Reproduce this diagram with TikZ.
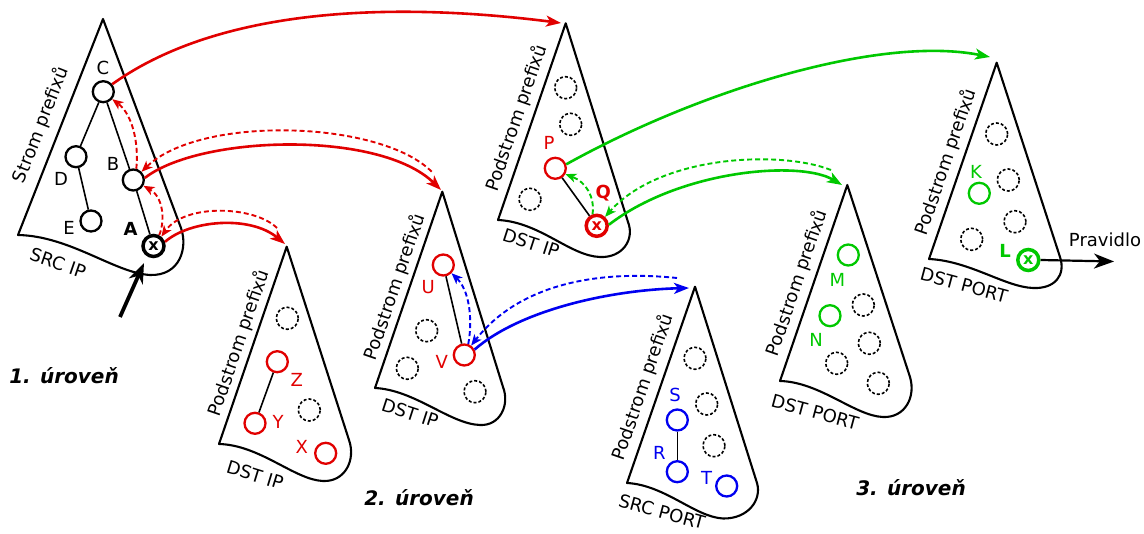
\documentclass[tikz,border=0pt]{standalone}
\usepackage{fontspec}
\setmainfont{DejaVu Sans}
\usetikzlibrary{arrows.meta}
\definecolor{cred}{RGB}{225,0,0}
\definecolor{cgreen}{RGB}{0,200,0}
\definecolor{cblue}{RGB}{0,0,240}
\begin{document}
\begin{tikzpicture}[x=1pt,y=-1pt,
  tri/.style={draw=black, line width=2.1pt, line join=round},
  nd/.style={circle, draw=#1, line width=2.3pt, minimum size=21pt, inner sep=0pt},
  nd/.default=black,
  dnd/.style={circle, draw=black, line width=1.6pt, dash pattern=on 3pt off 2pt, minimum size=22pt, inner sep=0pt},
  xnd/.style={circle, draw=#1, text=#1, line width=3.5pt, minimum size=21pt, inner sep=0pt, font=\bfseries\fontsize{16}{16}\selectfont},
  lbl/.style={font=\fontsize{18}{20}\selectfont, inner sep=0pt},
  blbl/.style={font=\bfseries\fontsize{18}{20}\selectfont, inner sep=0pt},
  side/.style={font=\fontsize{18}{20}\selectfont, inner sep=0pt},
  lvl/.style={font=\bfseries\itshape\fontsize{20}{22}\selectfont, inner sep=0pt},
  edge/.style={draw=black, line width=1.6pt},
  solidarr/.style={draw=#1, line width=2.6pt, -{Stealth[length=15pt,width=11pt,inset=4pt]}},
  dasharr/.style={draw=#1, line width=1.9pt, dash pattern=on 5pt off 3pt, -{Stealth[length=11pt,width=9pt,inset=3pt]}},
  blackarr/.style={draw=black, line width=#1, -{Stealth[length=20pt,width=15pt,inset=6pt]}}
]
\useasboundingbox (0,0) rectangle (1144,534);

% ---------- triangles ----------
\draw[tri] (103,19) -- (181,228) .. controls (188,248) and (180,276) .. (150,275) .. controls (115,273) and (70,236) .. (18,235) -- cycle;
\draw[tri] (286.7,246.7) -- (349,440) .. controls (356,460) and (345,482) .. (323,481) .. controls (295,480) and (260,445) .. (219,444) -- cycle;
\draw[tri] (442.3,191.7) -- (503,387) .. controls (510,405) and (500,426) .. (480,425) .. controls (450,424) and (415,390) .. (375,388) -- cycle;
\draw[tri] (565.7,23.3) -- (628,222) .. controls (635,240) and (622,258) .. (600,257) .. controls (570,256) and (540,222) .. (498,220) -- cycle;
\draw[tri] (695,286.7) -- (757,483) .. controls (762,500) and (748,519) .. (723,518.5) .. controls (695,517) and (665,485) .. (627,483) -- cycle;
\draw[tri] (847.3,185) -- (910,377) .. controls (916,397) and (905,418) .. (883,417) .. controls (855,416) and (820,382) .. (780,381) -- cycle;
\draw[tri] (996.7,62.7) -- (1060,257) .. controls (1066,275) and (1055,289) .. (1033,288) .. controls (1005,287) and (970,261) .. (929,259) -- cycle;

% ---------- side texts ----------
\node[side, rotate=68.5] (s1) at (41,125) {Strom prefixů};
\node[side, rotate=71] (s2) at (239,343) {Podstrom prefixů};
\node[side, rotate=71] (s3) at (395,287) {Podstrom prefixů};
\node[side, rotate=71] (s4) at (516.7,118) {Podstrom prefixů};
\node[side, rotate=71] (s5) at (643,387) {Podstrom prefixů};
\node[side, rotate=71] (s6) at (797,283) {Podstrom prefixů};
\node[side, rotate=71] (s7) at (946,162) {Podstrom prefixů};

\node[side, rotate=-19] (b1) at (58,263) {SRC IP};
\node[side, rotate=-17] (b2) at (255,475) {DST IP};
\node[side, rotate=-18] (b3) at (410,413) {DST IP};
\node[side, rotate=-18] (b4) at (531,243) {DST IP};
\node[side, rotate=-15] (b5) at (662,512) {SRC PORT};
\node[side, rotate=-15] (b6) at (815,412) {DST PORT};
\node[side, rotate=-15] (b7) at (964,285) {DST PORT};

% ---------- level labels ----------
\node[lvl] (l1) at (64,376) {1. úroveň};
\node[lvl] (l2) at (419,498) {2. úroveň};
\node[lvl] (l3) at (911,488) {3. úroveň};

% ---------- tree 1 ----------
\node[nd] (C) at (103.3,91.7) {};
\node[nd] (D) at (76,156.7) {};
\node[nd] (E) at (91,221) {};
\node[nd] (B) at (133.3,180) {};
\node[xnd=black] (A) at (153.5,246) {x};
\draw[edge] (C) -- (D);
\draw[edge] (D) -- (E);
\draw[edge] (C) -- (B);
\draw[edge] (B) -- (A);
\node[lbl] (lC) at (103,68) {C};
\node[lbl] (lD) at (61,179) {D};
\node[lbl] (lE) at (69,228) {E};
\node[lbl] (lB) at (113,164) {B};
\node[blbl] (lA) at (130.7,229) {A};

% ---------- tree 2 ----------
\node[dnd] (d21) at (287.3,318.3) {};
\node[nd=cred] (Z) at (277.3,361.7) {};
\node[nd=cred] (Y) at (255,423.3) {};
\node[dnd] (d22) at (309.3,410) {};
\node[nd=cred] (X) at (325.7,453.3) {};
\draw[edge] (Z) -- (Y);
\node[lbl, text=cred] (lZ) at (296.7,380) {Z};
\node[lbl, text=cred] (lY) at (278,421.7) {Y};
\node[lbl, text=cred] (lX) at (301.7,446.7) {X};

% ---------- tree 3 ----------
\node[nd=cred] (U) at (443.3,265) {};
\node[dnd] (d31) at (426.7,330.7) {};
\node[nd=cred] (V) at (464.3,355) {};
\node[dnd] (d32) at (407.3,368.3) {};
\node[dnd] (d33) at (475,391.7) {};
\draw[edge] (U) -- (V);
\node[lbl, text=cred] (lU) at (428.3,286.7) {U};
\node[lbl, text=cred] (lV) at (441.7,361.7) {V};

% ---------- tree 4 ----------
\node[dnd] (d41) at (565.7,87.7) {};
\node[dnd] (d42) at (570.7,124.3) {};
\node[nd=cred] (P) at (555.3,168.3) {};
\node[dnd] (d43) at (530,199.3) {};
\node[xnd=cred] (Q) at (596.7,225.8) {x};
\draw[edge] (P) -- (Q);
\node[lbl, text=cred] (lP) at (549,143.3) {P};
\node[blbl, text=cred] (lQ) at (603.3,192.7) {Q};

% ---------- tree 5 ----------
\node[dnd] (d51) at (695,358.3) {};
\node[nd=cblue] (S) at (677.3,420) {};
\node[dnd] (d52) at (706.7,404) {};
\node[dnd] (d53) at (714,445.7) {};
\node[nd=cblue] (R) at (677.3,471.7) {};
\node[nd=cblue] (T) at (726.7,486) {};
\draw[edge] (S) -- (R);
\node[lbl, text=cblue] (lS) at (675,395) {S};
\node[lbl, text=cblue] (lR) at (659.3,453.3) {R};
\node[lbl, text=cblue] (lT) at (706.7,478.3) {T};

% ---------- tree 6 ----------
\node[nd=cgreen] (M) at (848.3,255) {};
\node[dnd] (d61) at (863.3,305) {};
\node[nd=cgreen] (N) at (830,315.7) {};
\node[dnd] (d62) at (869.3,343.3) {};
\node[dnd] (d63) at (836.7,363.3) {};
\node[dnd] (d64) at (878.3,383.3) {};
\node[lbl, text=cgreen] (lM) at (837.3,280) {M};
\node[lbl, text=cgreen] (lN) at (816,340) {N};

% ---------- tree 7 ----------
\node[dnd] (d71) at (996.7,134) {};
\node[nd=cgreen] (K) at (979.3,193.3) {};
\node[dnd] (d72) at (1008.3,180) {};
\node[dnd] (d73) at (1015,221.7) {};
\node[dnd] (d74) at (971.7,239.3) {};
\node[xnd=cgreen] (L) at (1028.3,260) {x};
\node[lbl, text=cgreen] (lK) at (976,171.7) {K};
\node[blbl, text=cgreen] (lL) at (1005,251) {L};
\node[lbl] (rule) at (1105,239.5) {Pravidlo};

% ---------- endpoints ----------
\coordinate (e4) at (561,23);
\coordinate (e3) at (441,190);
\coordinate (s3) at (431.7,171.7);
\coordinate (e2) at (285,244);
\coordinate (s2) at (277,228);
\coordinate (e5) at (689,288);
\coordinate (s5) at (677,278);
\coordinate (e7) at (990,57);
\coordinate (e6) at (842,185);
\coordinate (s6) at (831,170);
\coordinate (out) at (1114,261.5);
\coordinate (inTail) at (120,317);
\coordinate (inHead) at (144,263);

% ---------- red connectors ----------
\draw[solidarr=cred] (C.40) .. controls (230,0) and (420,5) .. (e4);
\draw[solidarr=cred] (B.10) .. controls (200,135) and (380,130) .. (e3);
\draw[dasharr=cred] (s3) .. controls (380,120) and (200,115) .. (B.45);
\draw[solidarr=cred] (A.20) .. controls (190,220) and (250,215) .. (e2);
\draw[dasharr=cred] (s2) .. controls (255,206) and (185,203) .. (A.50);
\draw[dasharr=cred] (A.62) .. controls (166,218) and (162,196) .. (B.-30);
\draw[dasharr=cred] (B.75) .. controls (139,142) and (132,114) .. (C.-40);

% ---------- blue connectors ----------
\draw[solidarr=cblue] (V.28) .. controls (520,310) and (610,290) .. (e5);
\draw[dasharr=cblue] (s5) .. controls (600,270) and (520,283) .. (V.54);
\draw[dasharr=cblue] (V.70) .. controls (473,318) and (469,290) .. (U.-45);

% ---------- green connectors ----------
\draw[solidarr=cgreen] (P.20) .. controls (700,90) and (880,35) .. (e7);
\draw[solidarr=cgreen] (Q.5) .. controls (680,170) and (800,160) .. (e6);
\draw[dasharr=cgreen] (s6) .. controls (780,150) and (660,155) .. (Q.47);
\draw[dasharr=cgreen] (Q.110) .. controls (595,197) and (586,182) .. (P.-30);

% ---------- black arrows ----------
\draw[blackarr=2.2pt] (L.east) -- (out);
\draw[blackarr=3.8pt] (inTail) -- (inHead);
\end{tikzpicture}
\end{document}
